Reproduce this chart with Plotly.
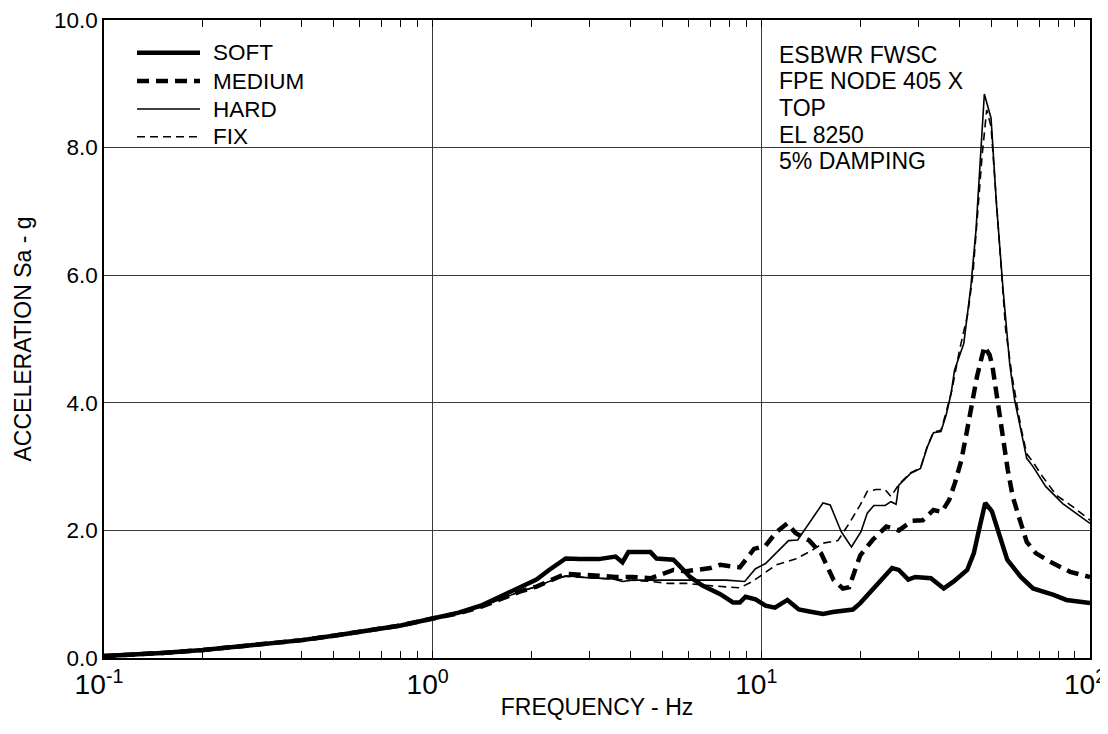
import plotly.graph_objects as go

# ---------------- data ----------------
soft_f = [0.1, 0.12, 0.15, 0.2, 0.25, 0.3, 0.4, 0.5, 0.6, 0.7, 0.8, 1.0, 1.2, 1.4, 1.6,
          1.84, 2.07, 2.26, 2.54, 2.8, 3.2, 3.6, 3.78, 3.94, 4.6, 4.8, 5.4, 5.6, 6.07, 6.6,
          7.5, 8.2, 8.6, 8.95, 9.6, 10.3, 11.0, 12.0, 13.0, 14.0, 15.4, 16.5, 19.0, 20.0,
          22.0, 25.0, 26.2, 28.0, 29.4, 32.8, 35.9, 38.5, 42.3, 44.3, 45.9, 48.0, 50.3,
          53.0, 56.0, 61.6, 67.1, 77.5, 84.8, 100.0]
soft_a = [0.03, 0.05, 0.08, 0.125, 0.17, 0.21, 0.28, 0.35, 0.41, 0.45, 0.51, 0.62, 0.71, 0.82, 0.96,
          1.10, 1.23, 1.38, 1.56, 1.55, 1.55, 1.59, 1.50, 1.66, 1.66, 1.56, 1.54, 1.46, 1.27, 1.14,
          1.00, 0.87, 0.87, 0.96, 0.92, 0.82, 0.79, 0.91, 0.76, 0.73, 0.69, 0.72, 0.76, 0.86,
          1.09, 1.41, 1.38, 1.23, 1.27, 1.25, 1.09, 1.20, 1.38, 1.64, 2.00, 2.43, 2.30,
          1.90, 1.54, 1.27, 1.09, 0.99, 0.91, 0.86]

medium_f = [0.1, 0.12, 0.15, 0.2, 0.25, 0.3, 0.4, 0.5, 0.6, 0.7, 0.8, 1.0, 1.2, 1.4, 1.6,
            1.84, 2.07, 2.26, 2.54, 3.2, 3.6, 4.05, 4.6, 4.9, 5.4, 5.9, 6.5, 7.0, 7.5, 8.2,
            8.6, 9.0, 9.5, 10.3, 11.1, 12.0, 12.7, 14.0, 15.2, 16.6, 17.7, 18.5, 20.0, 21.8,
            24.0, 26.2, 28.8, 31.0, 33.4, 35.4, 37.3, 38.8, 40.6, 42.1, 43.7, 45.3, 47.7,
            49.5, 50.5, 52.3, 54.3, 56.2, 58.2, 61.2, 64.2, 68.5, 75.6, 87.0, 100.0]
medium_a = [0.03, 0.05, 0.08, 0.125, 0.17, 0.21, 0.28, 0.35, 0.41, 0.45, 0.51, 0.62, 0.70, 0.80, 0.92,
            1.04, 1.12, 1.20, 1.32, 1.29, 1.27, 1.27, 1.25, 1.30, 1.38, 1.36, 1.39, 1.41, 1.46, 1.44,
            1.42, 1.55, 1.71, 1.76, 1.97, 2.11, 1.96, 1.84, 1.64, 1.22, 1.09, 1.11, 1.61, 1.85,
            2.06, 2.00, 2.15, 2.16, 2.32, 2.29, 2.48, 2.74, 3.10, 3.52, 3.99, 4.41, 4.88,
            4.75, 4.57, 3.99, 3.47, 2.95, 2.53, 2.16, 1.82, 1.64, 1.51, 1.35, 1.27]

hard_f = [0.1, 0.12, 0.15, 0.2, 0.25, 0.3, 0.4, 0.5, 0.6, 0.7, 0.8, 1.0, 1.2, 1.4, 1.6,
          1.84, 2.07, 2.26, 2.54, 2.94, 3.54, 3.78, 4.05, 5.2, 6.6, 7.8, 8.9, 9.6, 10.3,
          11.1, 12.1, 12.9, 14.3, 15.4, 16.2, 17.5, 18.8, 20.1, 21.0, 22.0, 23.8, 24.8,
          25.7, 26.2, 28.4, 30.5, 32.0, 33.4, 35.2, 36.5, 37.8, 38.7, 41.3, 43.4, 45.0,
          46.5, 47.7, 50.0, 51.9, 54.4, 57.0, 59.0, 61.6, 64.2, 67.1, 73.3, 82.6, 100.0]
hard_a = [0.03, 0.05, 0.08, 0.125, 0.17, 0.21, 0.28, 0.35, 0.41, 0.45, 0.51, 0.62, 0.70, 0.80, 0.92,
          1.04, 1.12, 1.20, 1.29, 1.26, 1.24, 1.20, 1.22, 1.22, 1.21, 1.22, 1.20, 1.40, 1.48,
          1.64, 1.84, 1.85, 2.19, 2.43, 2.40, 1.98, 1.74, 1.98, 2.27, 2.39, 2.39, 2.45,
          2.41, 2.71, 2.89, 2.97, 3.31, 3.53, 3.55, 3.81, 4.15, 4.51, 4.93, 5.82, 6.71,
          7.91, 8.84, 8.46, 7.13, 5.77, 4.60, 4.04, 3.57, 3.13, 3.00, 2.69, 2.42, 2.11]

fix_f = [0.1, 0.12, 0.15, 0.2, 0.25, 0.3, 0.4, 0.5, 0.6, 0.7, 0.8, 1.0, 1.2, 1.4, 1.6,
         1.84, 2.07, 2.26, 2.54, 3.2, 4.05, 4.6, 5.2, 5.9, 7.1, 8.6, 9.4, 10.2, 11.1, 12.7,
         14.3, 15.4, 17.1, 18.5, 20.0, 21.0, 22.3, 23.8, 24.8, 26.2, 28.4, 30.5, 32.0,
         33.4, 35.2, 36.5, 38.0, 40.1, 42.5, 44.0, 45.5, 47.0, 48.5, 50.0, 52.0, 55.4,
         58.0, 61.6, 64.2, 67.1, 71.6, 79.0, 88.8, 100.0]
fix_a = [0.03, 0.05, 0.08, 0.125, 0.17, 0.21, 0.28, 0.35, 0.41, 0.45, 0.51, 0.62, 0.70, 0.80, 0.92,
         1.04, 1.12, 1.20, 1.28, 1.25, 1.22, 1.20, 1.17, 1.17, 1.13, 1.10, 1.20, 1.33, 1.46, 1.55,
         1.69, 1.80, 1.84, 2.11, 2.40, 2.61, 2.64, 2.64, 2.53, 2.72, 2.90, 2.98, 3.32,
         3.54, 3.57, 3.85, 4.20, 4.83, 5.40, 6.00, 7.00, 7.90, 8.59, 8.33, 7.10, 5.14,
         4.40, 3.62, 3.20, 3.07, 2.85, 2.55, 2.37, 2.16]

series_names = ["SOFT", "MEDIUM", "HARD", "FIX"]
info_lines = ["ESBWR FWSC", "FPE NODE 405 X", "TOP", "EL 8250", "5% DAMPING"]

# tick label aliases for decade labels (plotly would print "1" and "10")
x_label_alias = {"1": "10<sup>0</sup>", "10": "10<sup>1</sup>",
                 "10<sup>\u22121</sup>": "10<sup>-1</sup>"}
y_tick_vals = [0, 2, 4, 6, 8, 10]

# ---------------- styles ----------------
FONT = "Liberation Sans, Arial, sans-serif"
styles = {
    "SOFT": dict(color="black", width=4.5, dash="solid"),
    "MEDIUM": dict(color="black", width=4.5, dash="12px,7px"),
    "HARD": dict(color="black", width=1.6, dash="solid"),
    "FIX": dict(color="black", width=1.6, dash="8px,5px"),
}

fig = go.Figure()
for name, fx, ay in zip(series_names,
                        [soft_f, medium_f, hard_f, fix_f],
                        [soft_a, medium_a, hard_a, fix_a]):
    fig.add_trace(go.Scatter(x=fx, y=ay, mode="lines", name=name,
                             line=styles[name], showlegend=False))

# The page body has an 8px margin, so the figure is offset by (8, 8) in the window.
OFF = 8
W, H = 1108 - OFF, 734 - OFF
# plot area in window pixels
L, R, T, B = 104, 1090, 20, 658
def px(x):
    return (x - L) / (R - L)
def py(y):
    return (B - y) / (B - T)

shapes = []
# white boxes behind legend and info text (hide gridlines)
shapes.append(dict(type="rect", xref="paper", yref="paper", layer="between",
                   x0=px(124), x1=px(587), y0=py(175), y1=py(T + 1),
                   fillcolor="white", line=dict(width=0)))
shapes.append(dict(type="rect", xref="paper", yref="paper", layer="between",
                   x0=px(773), x1=px(962), y0=py(172), y1=py(38),
                   fillcolor="white", line=dict(width=0)))

annotations = []
legend_y = [52.7, 81, 109, 136.7]
for name, yy in zip(series_names, legend_y):
    st = styles[name]
    shapes.append(dict(type="line", xref="paper", yref="paper", layer="above",
                       x0=px(137), x1=px(200), y0=py(yy), y1=py(yy),
                       line=dict(color="black", width=st["width"], dash=st["dash"])))
    annotations.append(dict(xref="paper", yref="paper", x=px(211), y=py(yy),
                            xanchor="left", yanchor="middle", text=name, showarrow=False,
                            font=dict(family=FONT, size=22.5, color="black")))

info_y = [55, 81.5, 108, 134.5, 161]
for txt, yy in zip(info_lines, info_y):
    annotations.append(dict(xref="paper", yref="paper", x=px(777), y=py(yy),
                            xanchor="left", yanchor="middle", text=txt, showarrow=False,
                            font=dict(family=FONT, size=23, color="black")))

fig.update_layout(
    width=W, height=H,
    margin=dict(l=L - OFF, r=1108 - R, t=T - OFF, b=734 - B, autoexpand=False),
    paper_bgcolor="white", plot_bgcolor="white",
    font=dict(family=FONT, size=22, color="black"),
    shapes=shapes, annotations=annotations,
    showlegend=False,
)
fig.update_xaxes(
    type="log", range=[-1, 2], automargin=False, ticklabeloverflow="allow",
    tickmode="linear", tick0=0, dtick=1, exponentformat="power",
    labelalias=x_label_alias, ticklabelshift=-5, ticklabelstandoff=2,
    ticks="inside", ticklen=7, tickcolor="black",
    showgrid=True, gridcolor="#3a3a3a", gridwidth=1,
    showline=True, linecolor="black", linewidth=1.5, mirror="ticks",
    minor=dict(dtick="D1", ticks="inside", ticklen=7, tickwidth=1.2,
               tickcolor="black", showgrid=False),
    tickfont=dict(size=22.5),
    title=dict(text="FREQUENCY - Hz", font=dict(size=23), standoff=0),
)
fig.update_yaxes(
    range=[0, 10], automargin=False, ticklabeloverflow="allow",
    tickmode="array", tickvals=y_tick_vals, tickformat=".1f",
    ticks="", showgrid=True, gridcolor="#3a3a3a", gridwidth=1,
    showline=True, linecolor="black", linewidth=1.5, mirror=True,
    zeroline=False,
    tickfont=dict(size=22.5),
    title=dict(text="ACCELERATION Sa - g", font=dict(size=23), standoff=16),
)

fig.write_html("out.html")
